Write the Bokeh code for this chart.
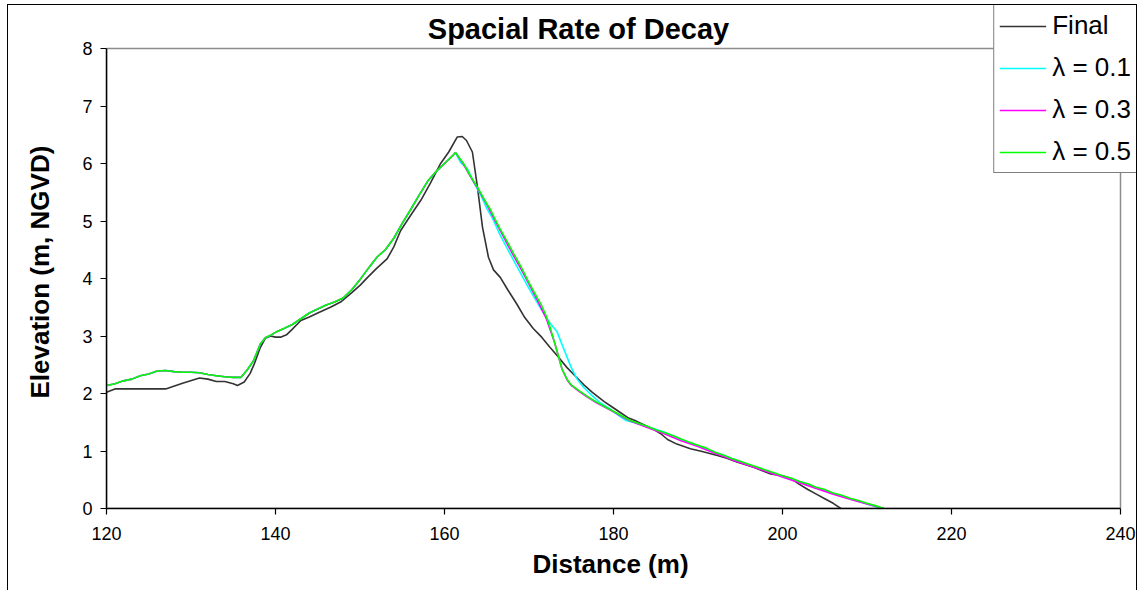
from bokeh.plotting import figure
from bokeh.models import (Legend, LegendItem, FixedTicker, BoxAnnotation, Range1d, Label,
                          InlineStyleSheet, Title)
from bokeh.embed import file_html
from bokeh.resources import INLINE

FONT = "Liberation Sans"

# ---------------- data ----------------
dist_final = [120, 121, 123, 125, 127, 129, 131, 132, 133, 134, 135, 135.5, 136.3, 137, 137.5,
              138.2, 138.8, 139.4, 140, 140.6, 141.3, 142, 143, 144, 145, 146.5, 147.7, 149,
              150, 150.9, 152, 153.2, 154, 154.8, 156, 157.2, 158.3, 159.5, 160.5, 161.5,
              162.1, 162.6, 163.3, 163.9, 164.5, 165.2, 165.8, 166.6, 167.5, 168.5, 169.5,
              170.5, 171.5, 172.5, 173.5, 174.5, 175.5, 176.5, 177.5, 178.9, 179.8, 180.8,
              181.7, 182.7, 183.7, 184.7, 185.6, 186.4, 187.5, 189.1, 190.5, 192.3, 193.5,
              194.6, 196.5, 198.6, 200, 201, 202, 203, 204, 205, 206, 206.9]
elev_final = [2.02, 2.08, 2.08, 2.08, 2.08, 2.18, 2.27, 2.25, 2.21, 2.21, 2.17, 2.14, 2.2, 2.35,
              2.52, 2.8, 2.96, 3.0, 2.98, 2.98, 3.02, 3.12, 3.27, 3.33, 3.4, 3.5, 3.59, 3.75,
              3.88, 4.02, 4.18, 4.34, 4.55, 4.83, 5.1, 5.36, 5.65, 5.99, 6.2, 6.46, 6.47, 6.4,
              6.2, 5.59, 4.89, 4.37, 4.15, 4.02, 3.8, 3.57, 3.32, 3.13, 2.98, 2.8, 2.63, 2.45,
              2.3, 2.15, 2.02, 1.86, 1.77, 1.67, 1.58, 1.52, 1.45, 1.38, 1.3, 1.2, 1.12, 1.04,
              0.99, 0.92, 0.87, 0.81, 0.72, 0.6, 0.57, 0.52, 0.42, 0.33, 0.25, 0.17, 0.09, 0.0]

# rising limb, common to the three smoothed profiles
dist_rise = [120, 121, 122, 123, 124, 125, 126, 127, 128, 129, 130, 131, 132, 133, 134, 135,
             135.9, 136.6, 137.4, 138.2, 138.8, 139.5, 140.2, 141, 142, 143, 144, 145, 146,
             147, 148, 149, 150, 151, 152, 153, 154, 155, 156, 157, 158, 159, 160, 161, 161.3]
elev_rise = [2.14, 2.17, 2.22, 2.25, 2.31, 2.34, 2.39, 2.4, 2.38, 2.37, 2.37, 2.36, 2.33, 2.31,
             2.29, 2.28, 2.28, 2.4, 2.57, 2.86, 2.97, 3.02, 3.08, 3.13, 3.2, 3.3, 3.4, 3.47,
             3.54, 3.59, 3.66, 3.8, 3.98, 4.18, 4.37, 4.5, 4.7, 4.96, 5.2, 5.45, 5.69, 5.86,
             6.0, 6.14, 6.19]

dist_fall_01 = [161.9, 162.7, 163.5, 164.3, 165, 165.6, 166.6, 167.5, 168.5, 169.5, 170.5,
                171.5, 172.5, 173.3, 174.1, 175, 175.7, 176.5, 177.5, 178.5, 179.5, 180.5,
                181.5, 182.5, 184, 186, 188, 190, 192, 194, 196, 198, 200, 202, 204, 206, 208,
                210, 211.7]
elev_fall_01 = [6.02, 5.91, 5.66, 5.45, 5.22, 5.07, 4.75, 4.5, 4.23, 3.96, 3.7, 3.45, 3.22, 3.08,
                2.78, 2.45, 2.25, 2.1, 1.96, 1.83, 1.74, 1.63, 1.53, 1.49, 1.42, 1.33, 1.2,
                1.09, 0.98, 0.87, 0.76, 0.66, 0.55, 0.47, 0.36, 0.26, 0.17, 0.08, 0.0]

dist_fall_03 = [162.2, 163, 164, 165, 166, 167, 168, 169, 170, 171, 172, 173, 173.9, 174.5, 175,
                176, 177, 178, 179, 180, 181, 182, 184, 186, 188, 190, 192, 194, 196, 198, 200,
                202, 204, 206, 208, 210, 212]
elev_fall_03 = [6.0, 5.79, 5.55, 5.29, 5.0, 4.72, 4.44, 4.18, 3.9, 3.62, 3.32, 2.9, 2.43, 2.24,
                2.14, 2.03, 1.93, 1.84, 1.76, 1.68, 1.6, 1.52, 1.41, 1.3, 1.18, 1.08, 0.96,
                0.85, 0.75, 0.65, 0.55, 0.45, 0.35, 0.25, 0.16, 0.08, 0.0]

dist_fall_05 = [162.3, 163, 163.9, 165, 165.4, 166, 166.6, 167.5, 168.2, 169, 170, 171, 171.4,
                172, 172.5, 173, 173.9, 174.5, 175, 176, 177, 178, 179, 180, 181, 182, 183, 184,
                185, 186, 187, 188, 189, 190, 191, 192, 193, 194, 195, 196, 197, 198, 199, 200,
                201, 202, 203, 204, 205, 206, 207, 208, 209, 210, 211, 212]
elev_fall_05 = [5.99, 5.8, 5.59, 5.3, 5.21, 5.03, 4.86, 4.62, 4.43, 4.22, 3.93, 3.66, 3.56,
                3.36, 3.15, 2.9, 2.43, 2.25, 2.15, 2.04, 1.94, 1.85, 1.77, 1.69, 1.61, 1.53,
                1.48, 1.43, 1.37, 1.32, 1.27, 1.21, 1.15, 1.1, 1.05, 0.98, 0.93, 0.87, 0.82,
                0.77, 0.72, 0.67, 0.62, 0.57, 0.53, 0.47, 0.43, 0.37, 0.33, 0.27, 0.23, 0.18,
                0.14, 0.09, 0.05, 0.0]

x_ticks = [120, 140, 160, 180, 200, 220, 240]
y_ticks = [0, 1, 2, 3, 4, 5, 6, 7, 8]

series_names = ["Final", "\u03bb = 0.1", "\u03bb = 0.3", "\u03bb = 0.5"]
series_colors = ["#333333", "#00FFFF", "#FF00FF", "#00FF00"]
chart_title = "Spacial Rate of Decay"
x_title = "Distance (m)"
y_title = "Elevation (m, NGVD)"

# ---------------- layout (pixels) ----------------
W, H = 1145, 590
PLOT_L, PLOT_R, PLOT_T, PLOT_B = 106, 1120, 48, 508     # data area (120..240, 0..8)
FRAME_R, FRAME_T = 1137, 4                              # frame extends to hold the legend
TITLE_X, TITLE_Y = 578, 28                              # title centre / baseline (px)
XT_LEFT = 532                                           # left end of x-axis title (px)
YT_BOTTOM = 398                                         # lower end of y-axis title (px)
x_lo, x_hi = x_ticks[0], x_ticks[-1]
y_lo, y_hi = y_ticks[0], y_ticks[-1]
px_x = (PLOT_R - PLOT_L) / (x_hi - x_lo)
px_y = (PLOT_B - PLOT_T) / (y_hi - y_lo)
x_end = x_hi + (FRAME_R - PLOT_R) / px_x
y_end = y_hi + (PLOT_T - FRAME_T) / px_y

p = figure(width=W, height=H, output_backend="svg", toolbar_location=None,
           x_range=Range1d(x_lo, x_end), y_range=Range1d(y_lo, y_end),
           min_border_left=PLOT_L, min_border_right=W - FRAME_R,
           min_border_top=FRAME_T, min_border_bottom=H - PLOT_B,
           title_location=None)
p.background_fill_color = "white"
p.border_fill_color = "white"
p.outline_line_color = None
p.xgrid.grid_line_color = None
p.ygrid.grid_line_color = None

# gray plot-area border (top/right visible; left/bottom covered by axes)
p.add_layout(BoxAnnotation(left=x_lo, right=x_hi, bottom=y_lo, top=y_hi, level="underlay",
                           fill_alpha=0, line_color="#8c8c8c", line_width=1.5, line_alpha=1))

for ax, ticks in ((p.xaxis[0], x_ticks), (p.yaxis[0], y_ticks)):
    ax.ticker = FixedTicker(ticks=ticks)
    ax.bounds = (ticks[0], ticks[-1])
    ax.minor_tick_line_color = None
    ax.major_tick_in = 0
    ax.major_tick_out = 6
    ax.axis_line_color = "black"
    ax.axis_line_width = 1.5
    ax.major_tick_line_color = "black"
    ax.major_tick_line_width = 1.2
    ax.major_label_text_font = FONT
    ax.major_label_text_font_size = "18px"
    ax.major_label_text_color = "black"
    ax.axis_label = None

p.xaxis.major_label_standoff = 12
p.yaxis.major_label_standoff = 8

# axis titles
p.add_layout(Title(text=y_title, align="left", offset=PLOT_B - YT_BOTTOM,
                   vertical_align="top", standoff=46, text_font=FONT,
                   text_font_size="26px", text_font_style="bold", text_color="black"), "left")
p.add_layout(Title(text=x_title, align="left", offset=XT_LEFT - PLOT_L,
                   vertical_align="top", standoff=12, text_font=FONT,
                   text_font_size="26px", text_font_style="bold", text_color="black"), "below")

# chart title
p.add_layout(Label(x=x_lo + (TITLE_X - PLOT_L) / px_x, y=y_lo + (PLOT_B - TITLE_Y) / px_y,
                   text=chart_title, text_align="center", text_baseline="alphabetic",
                   text_font=FONT, text_font_size="29px", text_font_style="bold",
                   text_color="black"))

r_final = p.line(dist_final, elev_final, line_color=series_colors[0], line_width=1.6)
r01 = p.line(dist_rise + dist_fall_01, elev_rise + elev_fall_01, line_color=series_colors[1], line_width=1.6)
r03 = p.line(dist_rise + dist_fall_03, elev_rise + elev_fall_03, line_color=series_colors[2], line_width=1.6)
r05 = p.line(dist_rise + dist_fall_05, elev_rise + elev_fall_05, line_color=series_colors[3], line_width=1.6)

legend = Legend(items=[LegendItem(label=n, renderers=[r]) for n, r in
                       zip(series_names, [r_final, r01, r03, r05])],
                location="top_right")
legend.label_text_font = FONT
legend.label_text_font_size = "26px"
legend.label_text_color = "black"
legend.glyph_width = 47
legend.glyph_height = 30
legend.label_height = 30
legend.label_standoff = 6
legend.spacing = 11
legend.padding = 5
legend.margin = 0
legend.border_line_color = "black"
legend.border_line_width = 1.2
legend.background_fill_color = "white"
legend.background_fill_alpha = 1
p.add_layout(legend)

# outer chart border (left, top, right edges; bottom lies below the window)
p.stylesheets = [InlineStyleSheet(css="""
:host { position: relative; overflow: hidden; }
:host::after { content: ""; position: absolute; left: 7px; top: 4px; width: 1130px;
               height: 640px; border: 1.3px solid #000; pointer-events: none;
               box-sizing: border-box; }
""")]

open("out.html", "w").write(file_html(p, INLINE))
